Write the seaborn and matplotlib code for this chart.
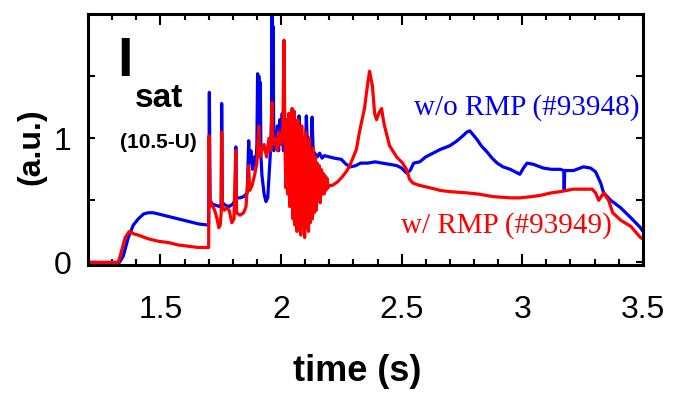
import matplotlib
matplotlib.use("Agg")
import matplotlib.pyplot as plt
import seaborn as sns
import pandas as pd
from matplotlib.ticker import FixedLocator, MultipleLocator

# ---- data ----
blue_t = [1.19, 1.33, 1.346, 1.367, 1.3875, 1.408, 1.43, 1.45, 1.47, 1.492, 1.533, 1.575, 1.617, 1.658, 1.698,
          1.700, 1.703, 1.706, 1.715, 1.73, 1.745, 1.752, 1.754, 1.757, 1.77, 1.785, 1.80, 1.810, 1.8125, 1.815,
          1.83, 1.845, 1.86, 1.866, 1.869, 1.875, 1.882, 1.89, 1.896, 1.90, 1.903, 1.906, 1.908, 1.911, 1.914,
          1.917, 1.921, 1.93, 1.9375, 1.945, 1.952, 1.958, 1.961, 1.9625, 1.964, 1.967, 1.970, 1.975, 1.98,
          1.985, 1.99, 1.995, 2.00, 2.005, 2.01, 2.015, 2.02, 2.025, 2.03, 2.035, 2.04, 2.045, 2.05, 2.055,
          2.06, 2.065, 2.07, 2.075, 2.08, 2.085, 2.09, 2.095, 2.10, 2.105, 2.11, 2.115, 2.12, 2.125, 2.129,
          2.133, 2.14, 2.15, 2.16, 2.17, 2.18, 2.2, 2.22, 2.25, 2.27, 2.29, 2.31, 2.33, 2.36, 2.39, 2.42, 2.45,
          2.48, 2.50, 2.52, 2.535, 2.55, 2.575, 2.60, 2.63, 2.66, 2.70, 2.73, 2.754, 2.77, 2.783, 2.80, 2.8125,
          2.83, 2.854, 2.875, 2.896, 2.92, 2.95, 2.97, 2.99, 3.005, 3.02, 3.046, 3.0875, 3.12, 3.158, 3.172,
          3.174, 3.176, 3.2125, 3.254, 3.283, 3.304, 3.325, 3.3375, 3.367, 3.408, 3.45, 3.49, 3.50]
blue_v = [0, 0, 0.05, 0.20, 0.30, 0.35, 0.39, 0.40, 0.40, 0.39, 0.37, 0.35, 0.33, 0.31, 0.30,
          0.30, 1.37, 0.50, 0.47, 0.46, 0.45, 0.47, 1.28, 0.48, 0.46, 0.45, 0.47, 0.50, 0.93, 0.52,
          0.52, 0.53, 0.56, 0.98, 0.80, 0.90, 0.75, 0.85, 0.78, 0.95, 1.52, 0.95, 1.50, 0.90, 1.45,
          0.85, 0.70, 0.55, 0.49, 0.52, 0.75, 0.95, 1.20, 2.05, 1.00, 1.90, 0.90, 1.05, 0.95,
          1.10, 0.90, 1.15, 0.95, 1.20, 0.90, 1.05, 0.85, 1.10, 0.90, 1.00, 0.85, 1.15, 0.90, 1.05,
          0.85, 1.00, 0.90, 1.18, 0.92, 1.05, 0.88, 1.00, 0.85, 1.18, 0.90, 1.00, 0.85, 0.95, 1.17,
          0.90, 0.88, 0.85, 0.88, 0.84, 0.86, 0.85, 0.84, 0.83, 0.79, 0.77, 0.78, 0.80, 0.80, 0.81, 0.80, 0.79,
          0.78, 0.76, 0.72, 0.74, 0.80, 0.81, 0.85, 0.88, 0.91, 0.94, 0.98, 1.02, 1.05, 1.06, 1.02, 0.99,
          0.94, 0.89, 0.84, 0.80, 0.77, 0.75, 0.73, 0.71, 0.76, 0.80, 0.79, 0.76, 0.75, 0.75, 0.74,
          0.58, 0.74, 0.74, 0.77, 0.76, 0.73, 0.64, 0.56, 0.50, 0.44, 0.36, 0.28, 0.25]

red_t = [1.19, 1.325, 1.333, 1.354, 1.371, 1.39, 1.408, 1.45, 1.492, 1.533, 1.575, 1.617, 1.658, 1.698,
         1.700, 1.702, 1.705, 1.713, 1.725, 1.735, 1.742, 1.748, 1.752, 1.754, 1.757, 1.765, 1.775, 1.785,
         1.796, 1.805, 1.8125, 1.816, 1.83, 1.845, 1.855, 1.866, 1.87, 1.88, 1.89, 1.90, 1.908, 1.912, 1.92,
         1.93, 1.94, 1.95, 1.958, 1.9625, 1.966, 1.975, 1.985, 1.99, 2.0, 2.008, 2.0125, 2.016,
         2.020, 2.024, 2.028, 2.032, 2.036, 2.040, 2.044, 2.046, 2.050, 2.054, 2.058, 2.062, 2.066, 2.070,
         2.074, 2.078, 2.082, 2.086, 2.090, 2.094, 2.098, 2.102, 2.106, 2.110, 2.114, 2.118, 2.122, 2.126,
         2.130, 2.134, 2.138, 2.142, 2.146, 2.150, 2.154, 2.158, 2.162, 2.166, 2.170, 2.174, 2.178, 2.182,
         2.186, 2.190, 2.195, 2.20, 2.2125, 2.235, 2.254, 2.27, 2.283, 2.30, 2.3125, 2.325, 2.346, 2.36,
         2.367, 2.373, 2.379, 2.388, 2.396, 2.405, 2.417, 2.424, 2.429, 2.45, 2.479, 2.504, 2.52, 2.533,
         2.546, 2.575, 2.62, 2.66, 2.70, 2.771, 2.82, 2.879, 2.95, 2.99, 3.04, 3.075, 3.12, 3.158, 3.2125,
         3.26, 3.29, 3.304, 3.317, 3.3375, 3.358, 3.375, 3.408, 3.45, 3.49, 3.50]
red_v = [0, 0, 0.05, 0.20, 0.25, 0.23, 0.22, 0.19, 0.17, 0.16, 0.14, 0.13, 0.12, 0.12,
         0.12, 1.02, 0.45, 0.47, 0.42, 0.35, 0.28, 0.30, 0.40, 1.05, 0.45, 0.42, 0.44, 0.42,
         0.32, 0.35, 0.90, 0.40, 0.38, 0.40, 0.45, 0.78, 0.58, 0.62, 0.70, 0.80, 1.10, 0.85, 0.90,
         0.95, 0.85, 1.00, 0.90, 1.29, 0.95, 1.00, 0.90, 1.05, 0.95, 1.10, 1.79, 1.00,
         0.60, 1.15, 0.55, 1.20, 0.45, 1.10, 0.50, 1.24, 0.35, 1.22, 0.30, 1.10, 0.25, 1.15,
         0.30, 1.05, 0.22, 1.10, 0.30, 1.00, 0.20, 1.05, 0.28, 0.95, 0.25, 1.00, 0.32, 0.90,
         0.35, 0.92, 0.40, 0.85, 0.42, 0.80, 0.50, 0.78, 0.48, 0.75, 0.55, 0.72, 0.55, 0.70,
         0.58, 0.68, 0.60, 0.62, 0.62, 0.65, 0.69, 0.73, 0.77, 0.85, 0.91, 1.05, 1.24, 1.45,
         1.54, 1.48, 1.42, 1.20, 1.15, 1.20, 1.24, 1.15, 1.10, 0.94, 0.85, 0.80, 0.75, 0.67,
         0.64, 0.62, 0.60, 0.58, 0.57, 0.56, 0.55, 0.53, 0.52, 0.52, 0.53, 0.54, 0.56, 0.57, 0.59,
         0.59, 0.59, 0.56, 0.50, 0.56, 0.50, 0.40, 0.34, 0.29, 0.20, 0.19]

x_ticks = [1.5, 2, 2.5, 3, 3.5]
x_ticklabels = ["1.5", "2", "2.5", "3", "3.5"]
y_ticks = [0, 1]
y_ticklabels = ["0", "1"]
label_blue = "w/o RMP (#93948)"
label_red = "w/ RMP (#93949)"

BLUE = "#0000f0"
RED = "#ff0000"

df_blue = pd.DataFrame({"t": blue_t, "v": blue_v})
df_red = pd.DataFrame({"t": red_t, "v": red_v})

sns.set_style("white")
plt.rcParams["font.family"] = ["Liberation Sans", "DejaVu Sans"]
plt.rcParams["text.color"] = "black"
plt.rcParams["axes.labelcolor"] = "black"
plt.rcParams["xtick.color"] = "black"
plt.rcParams["ytick.color"] = "black"

fig = plt.figure(figsize=(6.75, 3.93), dpi=100)
ax = fig.add_axes([0.1304, 0.326, 0.822, 0.638])

sns.lineplot(data=df_blue, x="t", y="v", sort=False, estimator=None, color=BLUE, lw=2.3, ax=ax)
sns.lineplot(data=df_red, x="t", y="v", sort=False, estimator=None, color=RED, lw=2.3, ax=ax)

ax.set_xlim(1.2, 3.5)
ax.set_ylim(-0.02, 2.0)

ax.xaxis.set_major_locator(FixedLocator(x_ticks))
ax.set_xticklabels(x_ticklabels)
ax.xaxis.set_minor_locator(MultipleLocator(0.1))
ax.yaxis.set_major_locator(FixedLocator(y_ticks))
ax.set_yticklabels(y_ticklabels)
ax.yaxis.set_minor_locator(FixedLocator([0.5, 1.5]))

ax.tick_params(axis="both", which="both", direction="in", top=True, right=True, bottom=True, left=True,
               width=1.5, color="black", labelsize=23, labelcolor="black")
ax.tick_params(axis="x", which="major", length=8, pad=22)
ax.tick_params(axis="x", which="minor", length=4)
ax.tick_params(axis="y", which="both", length=5, pad=12)

for s in ax.spines.values():
    s.set_linewidth(2.2)
    s.set_color("black")

ax.set_xlabel("time (s)", fontsize=26, fontweight="bold")
ax.xaxis.set_label_coords(0.486, -0.355)
ax.set_ylabel("(a.u.)", fontsize=23, fontweight="bold")
ax.yaxis.set_label_coords(-0.075, 0.47)

ax.text(0.066, 0.81, "I", transform=ax.transAxes, fontsize=40, fontweight="bold", ha="center", va="center")
ax.text(0.128, 0.665, "sat", transform=ax.transAxes, fontsize=24, fontweight="bold", ha="center", va="center")
ax.text(0.126, 0.49, "(10.5-U)", transform=ax.transAxes, fontsize=15, fontweight="bold", ha="center", va="center")

ax.text(3.017, 1.25, label_blue, color=BLUE, fontsize=21, family=["Liberation Serif", "DejaVu Serif"],
        ha="center", va="center")
ax.text(2.933, 0.30, label_red, color=RED, fontsize=21, family=["Liberation Serif", "DejaVu Serif"],
        ha="center", va="center")

fig.savefig("out.png", dpi=100)
